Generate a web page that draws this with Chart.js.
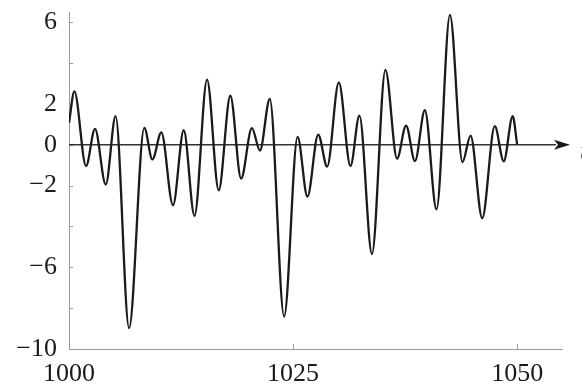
<!DOCTYPE html>
<html>
<head>
<meta charset="utf-8">
<script src="https://cdn.jsdelivr.net/npm/chart.js@4/dist/chart.umd.min.js"></script>
<style>
  html, body { margin: 0; padding: 0; background: #fff; }
  canvas { display: block; }
</style>
</head>
<body>
<canvas id="chart" width="582" height="387"></canvas>
<script>
// Extrema of the curve
const xValues = [1000.0, 1000.6, 1001.9, 1002.9, 1004.1, 1005.2, 1006.7, 1008.4, 1009.3, 1010.3,
                 1011.6, 1012.8, 1014.0, 1015.4, 1016.7, 1018.0, 1019.2, 1020.4, 1021.3, 1022.4,
                 1024.0, 1025.5, 1026.6, 1027.8, 1028.8, 1030.1, 1031.4, 1032.4, 1033.8, 1035.3,
                 1036.6, 1037.6, 1038.6, 1039.7, 1041.0, 1042.5, 1043.9, 1044.8, 1046.1, 1047.5,
                 1048.5, 1049.5, 1050.0];
const yValues = [1.07, 2.61, -1.04, 0.78, -1.95, 1.40, -8.98, 0.83, -0.72, 0.61,
                 -2.96, 0.71, -3.48, 3.19, -2.23, 2.40, -1.66, 0.81, -0.28, 2.24,
                 -8.41, 0.39, -2.54, 0.50, -1.07, 3.05, -1.04, 1.43, -5.35, 3.67,
                 -0.68, 0.94, -0.80, 1.69, -3.16, 6.36, -0.85, 0.45, -3.60, 0.91,
                 -0.81, 1.40, 0.0];

// Axis ticks
const xTicks = [1000, 1025, 1050];
const yTicks = [-10, -8, -6, -4, -2, 0, 2, 4, 6];
const yLabelled = [-10, -6, -2, 0, 2, 6];

const points = xValues.map((x, i) => ({ x: x, y: yValues[i] }));
const serif = '"Liberation Serif", "Times New Roman", serif';

// tick marks pointing inward, the zero axis with its arrow
const axisDecor = {
    id: 'axisDecor',
    beforeDatasetsDraw(chart) {
        const ctx = chart.ctx;
        const xs = chart.scales.x, ys = chart.scales.y;
        const area = chart.chartArea;
        ctx.save();
        ctx.strokeStyle = '#9a9a9a';
        ctx.lineWidth = 1;
        yTicks.forEach(v => {
            const py = Math.round(ys.getPixelForValue(v)) + 0.5;
            ctx.beginPath();
            ctx.moveTo(area.left, py);
            ctx.lineTo(area.left + 4, py);
            ctx.stroke();
        });
        xTicks.forEach(v => {
            const px = Math.round(xs.getPixelForValue(v)) + 0.5;
            ctx.beginPath();
            ctx.moveTo(px, area.bottom);
            ctx.lineTo(px, area.bottom - 5);
            ctx.stroke();
        });
        // zero line with arrow
        const y0 = ys.getPixelForValue(0);
        ctx.strokeStyle = '#333';
        ctx.lineWidth = 1.5;
        ctx.beginPath();
        ctx.moveTo(area.left, y0);
        ctx.lineTo(area.right - 6, y0);
        ctx.stroke();
        ctx.fillStyle = '#1a1a1a';
        ctx.beginPath();
        ctx.moveTo(area.right + 8, y0);
        ctx.lineTo(area.right - 8, y0 - 5);
        ctx.lineTo(area.right - 4, y0);
        ctx.lineTo(area.right - 8, y0 + 5);
        ctx.closePath();
        ctx.fill();
        ctx.font = 'italic 26px ' + serif;
        ctx.textBaseline = 'alphabetic';
        ctx.fillText('t', area.right + 18, y0 + 14);
        ctx.restore();
    }
};

new Chart(document.getElementById('chart'), {
    type: 'line',
    plugins: [axisDecor],
    data: {
        datasets: [{
            data: points,
            borderColor: '#1a1a1a',
            borderWidth: 2.3,
            pointRadius: 0,
            cubicInterpolationMode: 'monotone',
            fill: false
        }]
    },
    options: {
        responsive: false,
        animation: false,
        layout: { padding: { top: 12, right: 20, left: 0, bottom: 0 } },
        plugins: { legend: { display: false }, tooltip: { enabled: false } },
        scales: {
            x: {
                type: 'linear',
                min: 1000,
                max: 1055,
                afterBuildTicks: s => { s.ticks = xTicks.map(v => ({ value: v })); },
                afterFit: s => { s.height = 38; s.paddingLeft = 0; s.paddingRight = 0; },
                grid: { drawOnChartArea: false, drawTicks: false },
                border: { color: '#9a9a9a', width: 1 },
                ticks: {
                    padding: 10,
                    color: '#1a1a1a',
                    maxRotation: 0,
                    font: { family: serif, size: 26 },
                    callback: v => String(v)
                }
            },
            y: {
                type: 'linear',
                min: -10,
                max: 6.5,
                afterBuildTicks: s => { s.ticks = yTicks.map(v => ({ value: v })); },
                afterFit: s => { s.width = 69; s.paddingTop = 0; s.paddingBottom = 0; },
                grid: { drawOnChartArea: false, drawTicks: false },
                border: { color: '#9a9a9a', width: 1 },
                ticks: {
                    padding: 12,
                    color: '#1a1a1a',
                    font: { family: serif, size: 26 },
                    callback: v => yLabelled.includes(v) ? String(v).replace('-', '\u2212') : ''
                }
            }
        }
    }
});
</script>
</body>
</html>
